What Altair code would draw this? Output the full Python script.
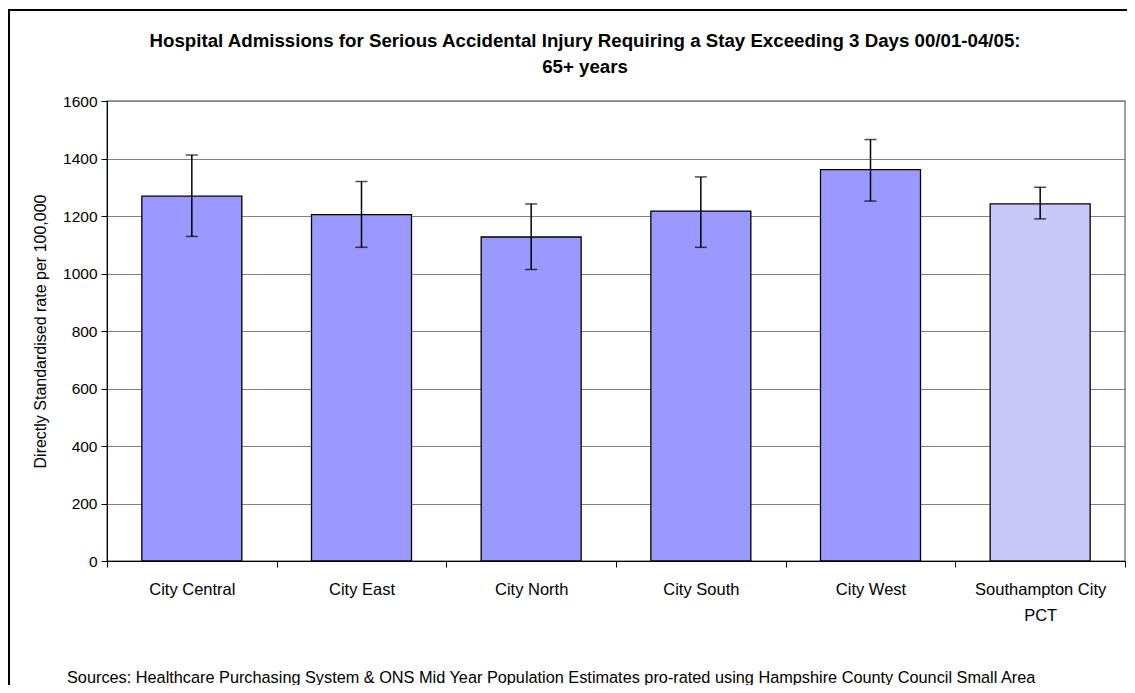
import pandas as pd
import altair as alt

# values
areas = ["City Central", "City East", "City North", "City South", "City West", "Southampton City\nPCT"]
rates = [1269, 1205, 1127, 1217, 1361, 1242]
lower_ci = [1129, 1091, 1014, 1091, 1252, 1190]
upper_ci = [1412, 1320, 1242, 1336, 1466, 1300]
y_ticks = [0, 200, 400, 600, 800, 1000, 1200, 1400, 1600]

title_lines = [
    "Hospital Admissions for Serious Accidental Injury Requiring a Stay Exceeding 3 Days 00/01-04/05:",
    "65+ years",
]
y_label = "Directly Standardised rate per 100,000"
footer = ("Sources: Healthcare Purchasing System & ONS Mid Year Population Estimates "
          "pro-rated using Hampshire County Council Small Area")

FONT = "Liberation Sans"
W, H = 1018, 460

df = pd.DataFrame({"area": areas, "rate": rates, "lower": lower_ci, "upper": upper_ci})
base = alt.Chart(df)

x_enc = alt.X(
    "area:N", sort=areas, title=None,
    scale=alt.Scale(paddingInner=0, paddingOuter=0),
    axis=alt.Axis(
        orient="bottom", tickBand="extent", tickSize=6, tickColor="black",
        domainColor="black", labelAngle=0, labelFontSize=16.5, labelColor="black",
        labelFont=FONT, labelPadding=14, labelLineHeight=26,
        labelExpr="split(datum.label, '\\n')",
    ),
)
y_scale = alt.Scale(domain=[0, 1600], nice=False)

bars = base.mark_bar(size=100, stroke="black", strokeWidth=1.3).encode(
    x=x_enc,
    y=alt.Y(
        "rate:Q", scale=y_scale, title=y_label,
        axis=alt.Axis(
            values=y_ticks, format="d", grid=True, gridColor="#808080", gridWidth=1,
            tickSize=6, tickColor="black", domainColor="black",
            labelFontSize=15.5, labelColor="black", labelFont=FONT, labelPadding=4,
            titleFont=FONT, titleFontSize=16, titleFontWeight="normal",
            titleColor="black", titlePadding=14,
        ),
    ),
    color=alt.condition(
        alt.datum.area == areas[-1], alt.value("#c8c8f8"), alt.value("#9999ff")
    ),
)

whisker = base.mark_rule(color="black", strokeWidth=1.5).encode(
    x=alt.X("area:N", sort=areas), y="lower:Q", y2="upper:Q"
)
cap_top = base.mark_tick(color="black", size=12, thickness=1.5).encode(
    x=alt.X("area:N", sort=areas), y="upper:Q"
)
cap_bottom = base.mark_tick(color="black", size=12, thickness=1.5).encode(
    x=alt.X("area:N", sort=areas), y="lower:Q"
)

# outer chart frame, as in the spreadsheet export
frame = alt.Chart(pd.DataFrame({"f": [0]})).mark_rect(
    fill=None, stroke="black", strokeWidth=2
).encode(x=alt.value(-98), x2=alt.value(1040), y=alt.value(-91), y2=alt.value(640))

note = alt.Chart(pd.DataFrame({"note": [footer]})).mark_text(
    align="left", baseline="alphabetic", fontSize=16.3, font=FONT, color="black"
).encode(x=alt.value(-40), y=alt.value(582), text="note:N")

# the frame rect sets the top of the bounds, so the title offset is negative
chart = alt.layer(bars, whisker, cap_top, cap_bottom, frame, note).properties(
    width=W, height=H,
    title=alt.TitleParams(
        text=title_lines, font=FONT, fontSize=18.7, fontWeight="bold", color="black",
        lineHeight=26, anchor="middle", frame="group", dx=-31, offset=-68,
    ),
    autosize=alt.AutoSizeParams(type="none"),
    padding={"left": 99, "top": 93, "right": 2, "bottom": 124},
).configure_view(stroke="#808080", strokeWidth=1.5)

chart.save("out.html", embed_options={"renderer": "svg", "actions": False})
